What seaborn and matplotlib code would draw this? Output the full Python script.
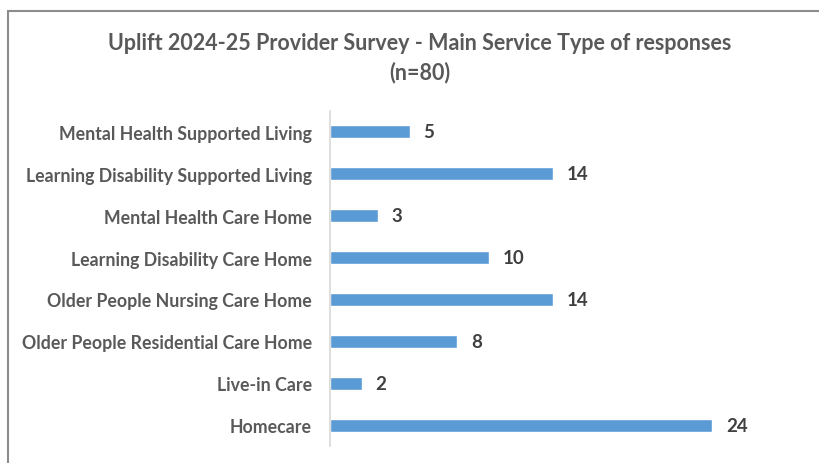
import matplotlib
matplotlib.use("Agg")
import matplotlib.pyplot as plt
import seaborn as sns
import pandas as pd
from matplotlib.patches import Rectangle

categories = [
    "Mental Health Supported Living",
    "Learning Disability Supported Living",
    "Mental Health Care Home",
    "Learning Disability Care Home",
    "Older People Nursing Care Home",
    "Older People Residential Care Home",
    "Live-in Care",
    "Homecare",
]
values = [5, 14, 3, 10, 14, 8, 2, 24]
title_line1 = "Uplift 2024-25 Provider Survey - Main Service Type of responses"
title_line2 = "(n=80)"

sns.set_theme(style="white")
plt.rcParams["font.family"] = ["Lato", "DejaVu Sans"]

df = pd.DataFrame({"cat": categories, "val": values})

W, H = 819, 464
fig = plt.figure(figsize=(W / 100, H / 100), dpi=100)
ax = fig.add_axes([330 / W, 17 / H, 446 / W, 335 / H])

sns.barplot(data=df, x="val", y="cat", orient="h", color="#5b9bd5",
            saturation=1, width=0.31, ax=ax, order=categories)

ax.set_xlim(0, 28)
ax.set_ylim(7.5, -0.5)
ax.set_xlabel("")
ax.set_ylabel("")
ax.set_xticks([])
for s in ["top", "right", "bottom"]:
    ax.spines[s].set_visible(False)
ax.spines["left"].set_color("#d9d9d9")
ax.spines["left"].set_linewidth(1.2)
ax.tick_params(axis="y", length=0, pad=13)
for lbl in ax.get_yticklabels():
    lbl.set_fontsize(12.8)
    lbl.set_fontweight("bold")
    lbl.set_color("#595959")

for cont in ax.containers:
    ax.bar_label(cont, labels=[str(v) for v in values], padding=10,
                 fontsize=13.5, fontweight="bold", color="#404040")

fig.text(420 / W, 1 - 44 / H, title_line1, ha="center", va="center",
         fontsize=15.5, fontweight="bold", color="#595959")
fig.text(420 / W, 1 - 73 / H, title_line2, ha="center", va="center",
         fontsize=15.5, fontweight="bold", color="#595959")

fig.patches.append(Rectangle((8 / W, -0.1), 1.2, 1 - 12 / H + 0.1,
                             transform=fig.transFigure, fill=False,
                             edgecolor="#8c8c8c", linewidth=1.5))

fig.savefig("out.png", dpi=100)
